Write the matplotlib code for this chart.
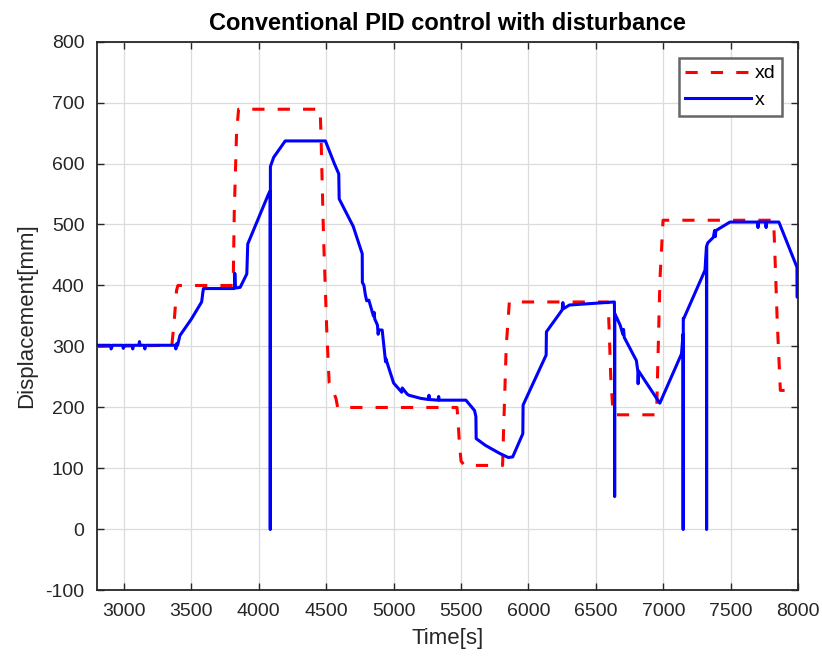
import numpy as np
import matplotlib.pyplot as plt

# desired position xd
t_xd = [2800, 3355, 3372, 3390, 3400, 3810, 3818, 3835, 3850, 4455, 4462, 4480, 4505, 4522,
        4545, 4572, 4585, 5470, 5478, 5488, 5500, 5525, 5808, 5815, 5835, 5858, 6590, 6598,
        6610, 6628, 6950, 6958, 6975, 6998, 7818, 7826, 7845, 7868, 8000]
xd = [300, 302, 340, 392, 400, 400, 520, 650, 689, 689, 640, 480, 320, 240,
      230, 215, 200, 200, 178, 140, 112, 105, 105, 160, 300, 373, 373, 330,
      250, 188, 188, 260, 410, 507, 507, 460, 340, 228, 228]

t_x = [2800, 2900, 2905, 2915, 2990, 2995, 3005, 3060, 3065, 3070, 3110, 3115, 3120,
       3150, 3155, 3160, 3380, 3385, 3392, 3398, 3415, 3500, 3576, 3580, 3589,
       3820, 3822, 3826, 3836, 3862, 3911, 3918, 4072, 4084, 4085, 4086, 4110, 4196,
       4494, 4560, 4593, 4596, 4700, 4767, 4768, 4780, 4790, 4800, 4816, 4850, 4855,
       4860, 4880, 4885, 4890, 4915, 4940, 4942, 5000, 5060, 5064, 5100, 5114,
       5200, 5260, 5262, 5264, 5330, 5334, 5338, 5400, 5536, 5600, 5610, 5612,
       5680, 5784, 5830, 5850, 5883, 5958, 5960, 6131, 6133, 6230, 6250, 6255,
       6260, 6304, 6627, 6637, 6638, 6639, 6640, 6680, 6700, 6705, 6710, 6800,
       6812, 6813, 6816, 6974, 7135, 7146, 7147, 7148, 7150, 7309, 7320, 7321,
       7322, 7330, 7371, 7380, 7385, 7390, 7494, 7700, 7702, 7704, 7760, 7762,
       7764, 7857, 7991, 7992, 8000]
x = [302, 302, 296, 302, 302, 297, 302, 302, 296, 302, 302, 308, 302,
     302, 296, 302, 302, 296, 305, 302, 318, 345, 373, 380, 395,
     395, 420, 398, 396, 397, 419, 468, 550, 555, 0, 595, 610, 637,
     637, 600, 583, 542, 497, 452, 405, 400, 385, 375, 376, 350, 356,
     345, 335, 320, 327, 327, 275, 280, 240, 225, 232, 222, 220,
     215, 213, 220, 213, 212, 218, 212, 212, 212, 195, 185, 149,
     138, 125, 120, 118, 119, 157, 204, 286, 324, 354, 360, 372,
     362, 368, 373, 373, 355, 54, 354, 335, 320, 328, 315, 277,
     258, 239, 260, 207, 288, 320, 0, 346, 345, 425, 463, 0,
     465, 470, 479, 490, 480, 490, 504, 504, 495, 504, 504, 495,
     504, 504, 430, 381, 381]

plt.rcParams['font.family'] = ['Liberation Sans', 'DejaVu Sans']
plt.rcParams['axes.unicode_minus'] = False
f, ax = plt.subplots(figsize=(8.22, 6.59), dpi=100)
f.subplots_adjust(left=0.118, right=0.971, bottom=0.104, top=0.937)

ax.plot(t_xd, xd, color='red', linestyle=(0, (4, 4.3)), linewidth=2.2, label='xd', zorder=3)
ax.plot(t_x, x, color='blue', linewidth=2.2, label='x', zorder=4)

ax.set_xlim(2800, 8000)
ax.set_ylim(-100, 800)
ax.set_xticks(np.arange(3000, 8001, 500))
ax.set_yticks(np.arange(-100, 801, 100))
ax.grid(True, color='#dcdcdc', linewidth=0.9)
ax.set_axisbelow(True)

axc = '#262626'
for s in ax.spines.values():
    s.set_color(axc)
    s.set_linewidth(1.3)
ax.tick_params(direction='in', top=True, right=True, length=5, width=1.0,
               colors=axc, labelcolor='#262626', labelsize=14, pad=9)

ax.set_title('Conventional PID control with disturbance', fontsize=17, fontweight='bold', pad=8)
ax.set_xlabel('Time[s]', fontsize=16, color='#262626', labelpad=6)
ax.set_ylabel('Displacement[mm]', fontsize=16, color='#262626', labelpad=6)

leg = ax.legend(loc='upper right', bbox_to_anchor=(0.977, 0.970), borderaxespad=0,
                fontsize=14, handlelength=3.35, fancybox=False, framealpha=1,
                borderpad=0.35, handletextpad=0.2, labelspacing=0.45)
leg.get_frame().set_edgecolor('#666666')
leg.get_frame().set_linewidth(1.8)

plt.savefig('out.png', dpi=100)
